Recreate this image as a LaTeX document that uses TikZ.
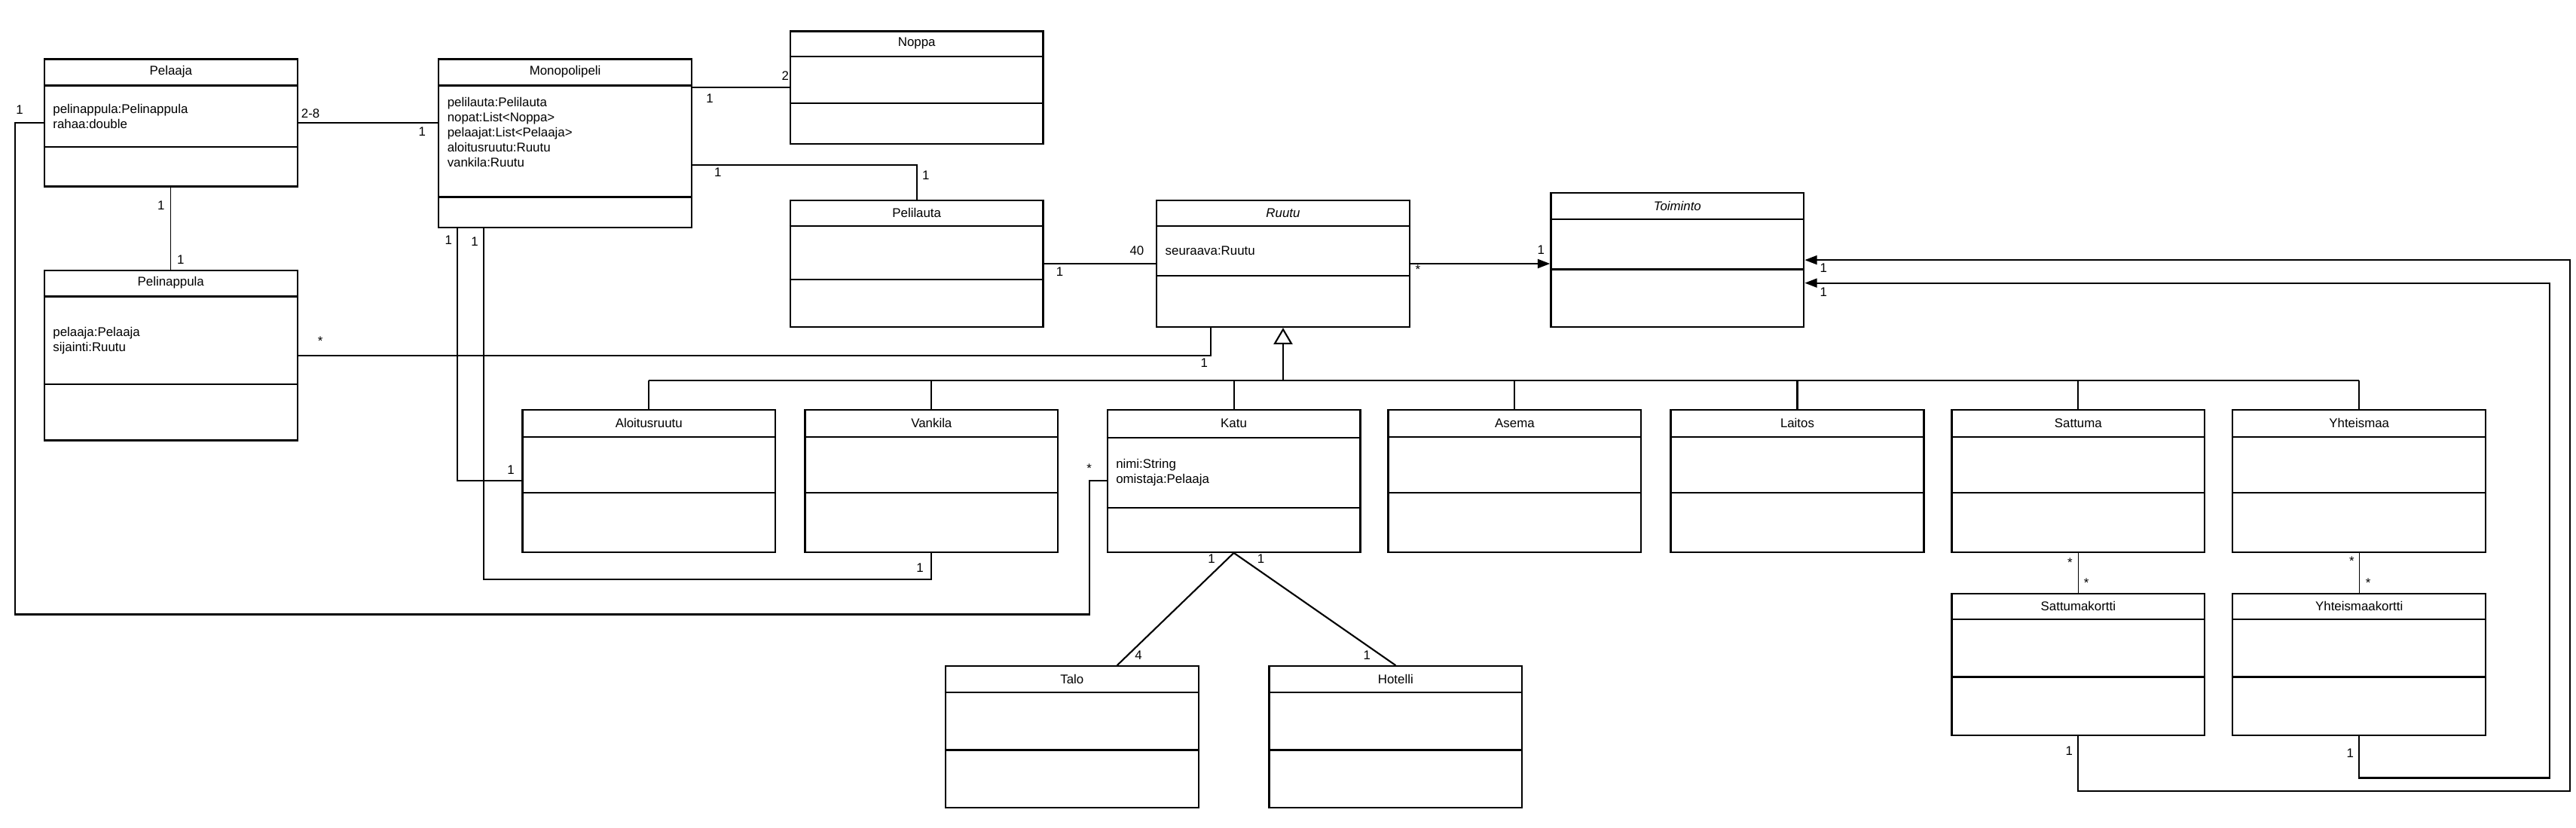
\documentclass[tikz,border=0pt]{standalone}
\usepackage{fontspec}
\setmainfont{Liberation Sans}
\usetikzlibrary{arrows.meta,positioning,calc}
\tikzset{
  classbox/.style={draw=black, line width=0.6pt, minimum width=3.08cm, inner sep=0pt, fill=white},
  classrule/.style={line width=0.6pt},
  classname/.style={inner sep=0pt, anchor=center},
  classattr/.style={inner sep=0pt, anchor=west, align=left},
  assoc/.style={line width=0.55pt},
  assocthin/.style={line width=0.35pt},
  navline/.style={-{Triangle[length=1.5mm,width=1.1mm]}, line width=0.55pt},
  genline/.style={-{Triangle[open,length=2mm,width=2.3mm]}, line width=0.55pt},
  mult/.style={inner sep=0pt}
}
% name, x, top, height, header rule, ops rule, title, attributes
\newcommand{\umlclass}[8]{%
  \node[classbox, minimum height=#4cm, anchor=north] (#1) at (#2,#3) {};
  \draw[classrule] ([yshift=-#5cm]#1.north west) -- ([yshift=-#5cm]#1.north east);
  \draw[classrule] ([yshift=-#6cm]#1.north west) -- ([yshift=-#6cm]#1.north east);
  \node[classname] (#1-name) at ([yshift=-0.5*#5cm]#1.north) {#7};
  \node[classattr] (#1-attr) at ([xshift=0.11cm, yshift=-0.5*#5cm-0.5*#6cm]#1.north west) {#8};
}

\begin{document}
\begin{tikzpicture}[every node/.style={font=\fontsize{4.4}{5.2}\selectfont}]
  \path[use as bounding box, fill=white] (0,0) rectangle (31.36,10.08);

  % classes
  \umlclass{pelaaja}{2.08}{9.37}{1.55}{0.33}{1.08}{Pelaaja}{pelinappula:Pelinappula\\rahaa:double}
  \umlclass{mono}{6.88}{9.37}{2.05}{0.33}{1.69}{Monopolipeli}{}
  \node[classattr] (mono-attrlist) at ([xshift=0.11cm, yshift=-0.90cm]mono.north west)
    {pelilauta:Pelilauta\\nopat:List<Noppa>\\pelaajat:List<Pelaaja>\\aloitusruutu:Ruutu\\vankila:Ruutu};
  \umlclass{noppa}{11.16}{9.71}{1.37}{0.32}{0.89}{Noppa}{}
  \umlclass{pelilauta}{11.16}{7.65}{1.54}{0.32}{0.97}{Pelilauta}{}
  \umlclass{ruutu}{15.62}{7.65}{1.54}{0.32}{0.93}{\textit{Ruutu}}{seuraava:Ruutu}
  \umlclass{toiminto}{20.42}{7.74}{1.63}{0.33}{0.94}{\textit{Toiminto}}{}
  \umlclass{pelinappula}{2.08}{6.80}{2.07}{0.33}{1.40}{Pelinappula}{pelaaja:Pelaaja\\sijainti:Ruutu}

  \umlclass{aloitus}{7.90}{5.10}{1.73}{0.34}{1.02}{Aloitusruutu}{}
  \umlclass{vankila}{11.34}{5.10}{1.73}{0.34}{1.02}{Vankila}{}
  \umlclass{katu}{15.02}{5.10}{1.73}{0.35}{1.20}{Katu}{nimi:String\\omistaja:Pelaaja}
  \umlclass{asema}{18.44}{5.10}{1.73}{0.34}{1.02}{Asema}{}
  \umlclass{laitos}{21.88}{5.10}{1.73}{0.34}{1.02}{Laitos}{}
  \umlclass{sattuma}{25.30}{5.10}{1.73}{0.34}{1.02}{Sattuma}{}
  \umlclass{yhteis}{28.72}{5.10}{1.73}{0.34}{1.02}{Yhteismaa}{}

  \umlclass{sattumak}{25.30}{2.86}{1.72}{0.32}{1.02}{Sattumakortti}{}
  \umlclass{yhteisk}{28.72}{2.86}{1.72}{0.32}{1.02}{Yhteismaakortti}{}
  \umlclass{talo}{13.05}{1.98}{1.72}{0.33}{1.03}{Talo}{}
  \umlclass{hotelli}{16.99}{1.98}{1.72}{0.33}{1.03}{Hotelli}{}

  % loop coordinates
  \coordinate (ploopA) at (0.18,2.60);
  \coordinate (ploopB) at (13.26,2.60);
  \coordinate (vloop) at (5.90,3.03);
  \coordinate (sloop) at (31.29,0.45);
  \coordinate (yloop) at (31.04,0.61);
  \coordinate (bus) at (15.62,5.45);

  % associations
  \draw[assoc] (pelaaja.east) -- (pelaaja.east -| mono.west);
  \draw[assoc] (pelaaja.west) -| (ploopA) -- (ploopB) |- (katu.west);
  \draw[assocthin] (pelaaja.south) -- (pelinappula.north);
  \draw[assoc] (noppa.west -| mono.east) -- (noppa.west);
  \draw[assoc] ([yshift=-0.26cm]mono.east) -| (pelilauta.north);
  \draw[assoc] ([xshift=0.24cm]mono.south west) |- (aloitus.west);
  \draw[assoc] ([xshift=0.56cm]mono.south west) |- (vloop) -| (vankila.south);
  \draw[assoc] (pelilauta.east) -- (ruutu.west);
  \draw[navline] (ruutu.east) -- (ruutu.east -| toiminto.west);
  \draw[assoc] (pelinappula.east) -| ([xshift=-0.88cm]ruutu.south);
  \draw[assoc] (katu.south) -- ([xshift=0.55cm]talo.north);
  \draw[assoc] (katu.south) -- (hotelli.north);
  \draw[assocthin] (sattuma.south) -- (sattumak.north);
  \draw[assocthin] (yhteis.south) -- (yhteisk.north);
  \draw[navline] (sattumak.south) |- (sloop) |- (toiminto.east);
  \draw[navline] (yhteisk.south) |- (yloop) |- ([yshift=-0.28cm]toiminto.east);

  % generalization
  \draw[assoc] (aloitus.north |- bus) -- (yhteis.north |- bus);
  \foreach \sub in {aloitus,vankila,katu,asema,laitos,sattuma,yhteis}
    \draw[assoc] (\sub.north) -- (\sub.north |- bus);
  \draw[genline] (bus) -- (ruutu.south);

  % multiplicities
  \node[mult] (m-pm-a) at (3.78,8.70) {2-8};
  \node[mult] (m-pm-b) at (5.14,8.48) {1};
  \node[mult] (m-pk-a) at (0.24,8.74) {1};
  \node[mult] (m-pk-b) at (13.26,4.38) {*};
  \node[mult] (m-pp-a) at (1.96,7.58) {1};
  \node[mult] (m-pp-b) at (2.20,6.92) {1};
  \node[mult] (m-mn-a) at (8.64,8.88) {1};
  \node[mult] (m-mn-b) at (9.56,9.16) {2};
  \node[mult] (m-ml-a) at (8.74,7.98) {1};
  \node[mult] (m-ml-b) at (11.27,7.95) {1};
  \node[mult] (m-ma-a) at (5.46,7.16) {1};
  \node[mult] (m-ma-b) at (6.22,4.36) {1};
  \node[mult] (m-mv-a) at (5.78,7.14) {1};
  \node[mult] (m-mv-b) at (11.20,3.17) {1};
  \node[mult] (m-lr-a) at (12.90,6.77) {1};
  \node[mult] (m-lr-b) at (13.84,7.03) {40};
  \node[mult] (m-rt-a) at (17.26,6.80) {*};
  \node[mult] (m-rt-b) at (18.76,7.04) {1};
  \node[mult] (m-nr-a) at (3.90,5.93) {*};
  \node[mult] (m-nr-b) at (14.66,5.66) {1};
  \node[mult] (m-kt-a) at (14.75,3.28) {1};
  \node[mult] (m-kt-b) at (13.86,2.10) {4};
  \node[mult] (m-kh-a) at (15.35,3.28) {1};
  \node[mult] (m-kh-b) at (16.64,2.10) {1};
  \node[mult] (m-ss-a) at (25.20,3.23) {*};
  \node[mult] (m-ss-b) at (25.40,2.98) {*};
  \node[mult] (m-yy-a) at (28.63,3.25) {*};
  \node[mult] (m-yy-b) at (28.83,2.98) {*};
  \node[mult] (m-st-a) at (25.19,0.94) {1};
  \node[mult] (m-st-b) at (22.20,6.82) {1};
  \node[mult] (m-yt-a) at (28.61,0.91) {1};
  \node[mult] (m-yt-b) at (22.20,6.52) {1};
\end{tikzpicture}
\end{document}
